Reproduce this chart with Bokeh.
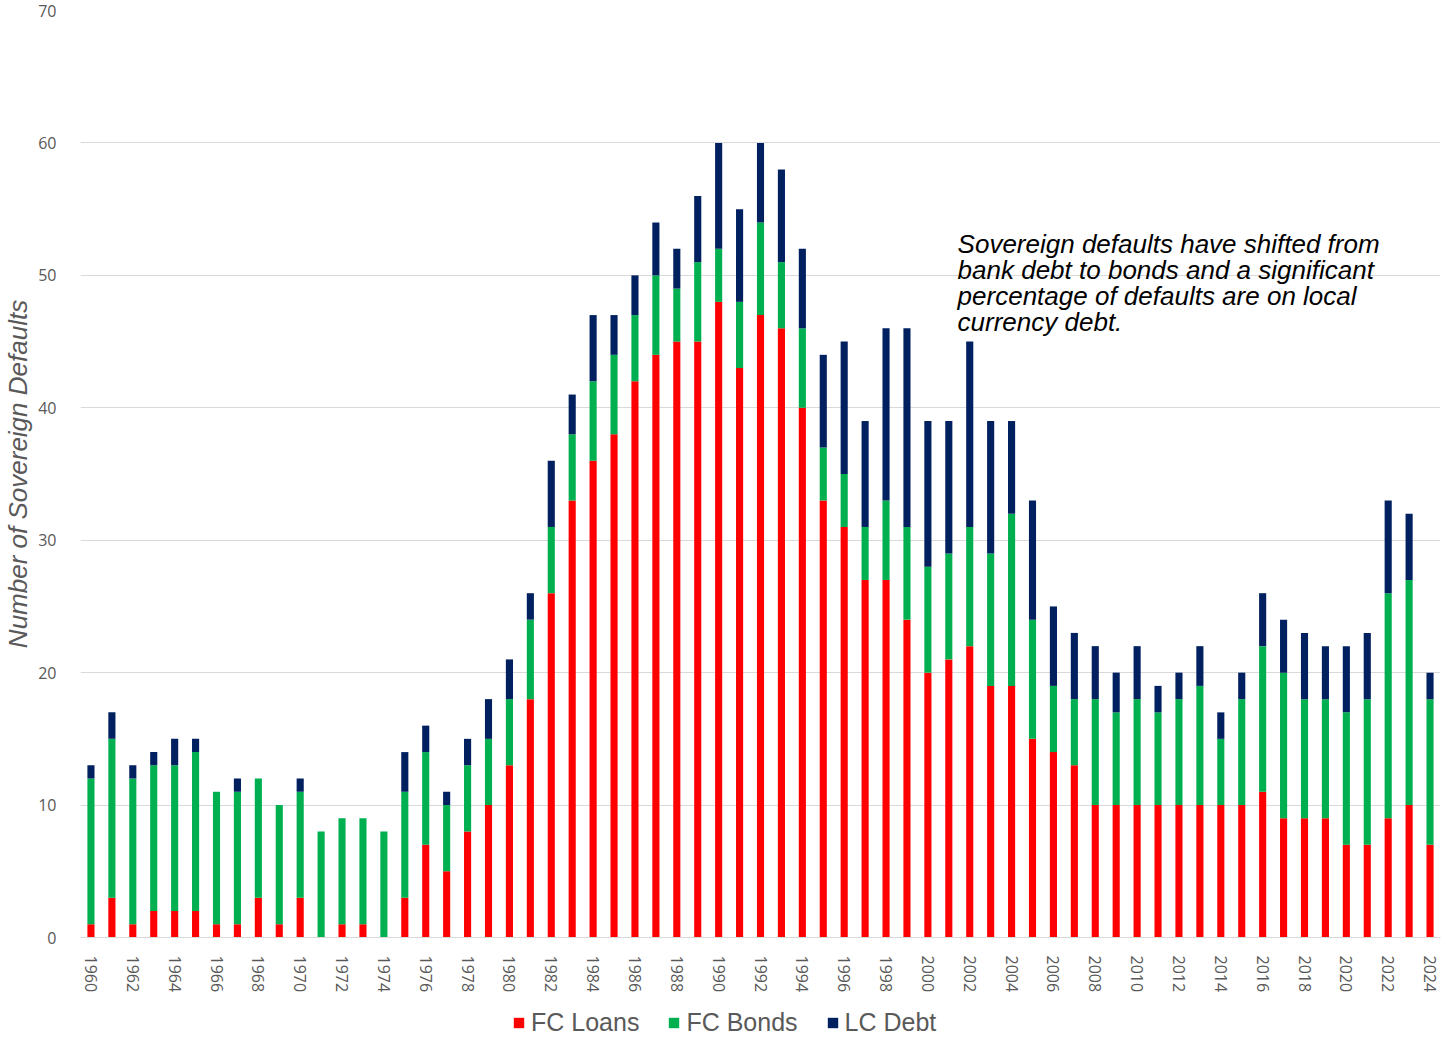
import math
from bokeh.plotting import figure
from bokeh.layouts import column
from bokeh.models import (ColumnDataSource, Range1d, FixedTicker, Legend, LegendItem,
                          Label)
from bokeh.embed import file_html
from bokeh.resources import INLINE

years = list(range(1960, 2025))
fc_loans = [1, 3, 1, 2, 2, 2, 1, 1, 3, 1,
            3, 0, 1, 1, 0, 3, 7, 5, 8, 10,
            13, 18, 26, 33, 36, 38, 42, 44, 45, 45,
            48, 43, 47, 46, 40, 33, 31, 27, 27, 24,
            20, 21, 22, 19, 19, 15, 14, 13, 10, 10,
            10, 10, 10, 10, 10, 10, 11, 9, 9, 9,
            7, 7, 9, 10, 7]
fc_bonds = [11, 12, 11, 11, 11, 12, 10, 10, 9, 9,
            8, 8, 8, 8, 8, 8, 7, 5, 5, 5,
            5, 6, 5, 5, 6, 6, 5, 6, 4, 6,
            4, 5, 7, 5, 6, 4, 4, 4, 6, 7,
            8, 8, 9, 10, 13, 9, 5, 5, 8, 7,
            8, 7, 8, 9, 5, 8, 11, 11, 9, 9,
            10, 11, 17, 17, 11]
lc_debt = [1, 2, 1, 1, 2, 1, 0, 1, 0, 0,
           1, 0, 0, 0, 0, 3, 2, 1, 2, 3,
           3, 2, 5, 3, 5, 3, 3, 4, 3, 5,
           8, 7, 6, 7, 6, 7, 10, 8, 13, 15,
           11, 10, 14, 10, 7, 9, 6, 5, 4, 3,
           4, 2, 2, 3, 2, 2, 4, 4, 5, 4,
           5, 5, 7, 5, 2]
series_names = ["FC Loans", "FC Bonds", "LC Debt"]
colors = ["#FF0000", "#00B050", "#002060"]
y_ticks = [0, 10, 20, 30, 40, 50, 60, 70]
x_ticks = list(range(1960, 2025, 2))
note = ("Sovereign defaults have shifted from\n"
        "bank debt to bonds and a significant\n"
        "percentage of defaults are on local\n"
        "currency debt.")

source = ColumnDataSource(dict(year=years, loans=fc_loans, bonds=fc_bonds, lc=lc_debt))

p = figure(width=1456, height=995, output_backend="svg", toolbar_location=None,
           x_range=Range1d(1959.5, 2024.5), y_range=Range1d(0, 70),
           min_border_left=80, min_border_right=16, min_border_top=10, min_border_bottom=54)
p.outline_line_color = None
p.background_fill_color = "white"
p.border_fill_color = "white"

renderers = p.vbar_stack(["loans", "bonds", "lc"], x="year", width=0.34, source=source,
                         color=colors, line_color=None)

# axes
p.xaxis.ticker = FixedTicker(ticks=x_ticks)
p.xaxis.major_label_orientation = -math.pi / 2
p.xaxis.major_label_text_font = "Open Sans"
p.xaxis.major_label_text_font_size = "16px"
p.xaxis.major_label_text_color = "#595959"
p.xaxis.major_label_standoff = 12
p.xaxis.axis_line_color = "#d9d9d9"
p.xaxis.major_tick_line_color = None
p.xaxis.minor_tick_line_color = None

p.yaxis.ticker = FixedTicker(ticks=y_ticks)
p.yaxis.major_label_text_font = "Open Sans"
p.yaxis.major_label_text_font_size = "16px"
p.yaxis.major_label_text_color = "#595959"
p.yaxis.major_label_standoff = 18
p.yaxis.axis_line_color = None
p.yaxis.major_tick_line_color = None
p.yaxis.minor_tick_line_color = None
p.yaxis.axis_label = "Number of Sovereign Defaults"
p.yaxis.axis_label_text_font = "Liberation Sans"
p.yaxis.axis_label_text_font_style = "italic"
p.yaxis.axis_label_text_font_size = "26px"
p.yaxis.axis_label_text_color = "#595959"
p.yaxis.axis_label_standoff = 2

p.xgrid.grid_line_color = None
p.ygrid.grid_line_color = "#d9d9d9"
p.ygrid.grid_line_width = 1

# annotation
p.add_layout(Label(x=2001.42, y=53.5, text=note, text_baseline="top", text_align="left",
                   text_font="Liberation Sans", text_font_style="italic",
                   text_font_size="26px", text_color="black", text_line_height=0.87))

# legend strip below the chart (same series; ranges chosen so its bars stay out of view)
lp = figure(width=1456, height=44, output_backend="svg", toolbar_location=None,
            x_axis_type=None, y_axis_type=None,
            x_range=Range1d(3000, 3001), y_range=Range1d(100, 101), min_border=0)
lp.grid.visible = False
lp.outline_line_color = None
lp.border_fill_color = "white"
legend_renderers = lp.vbar_stack(["loans", "bonds", "lc"], x="year", width=0.34,
                                 source=source, color=colors, line_color=None)
items = [LegendItem(label=n, renderers=[r]) for n, r in zip(series_names, legend_renderers)]
legend = Legend(items=items, orientation="horizontal", location=(432, 2),
                glyph_width=13, glyph_height=13, label_standoff=6, spacing=28,
                padding=0, margin=0, border_line_color=None, background_fill_alpha=0,
                label_text_font="Liberation Sans", label_text_font_size="25px",
                label_text_color="#595959", label_height=25)
lp.add_layout(legend)

layout = column(p, lp, spacing=0)
open("out.html", "w").write(file_html(layout, INLINE))
